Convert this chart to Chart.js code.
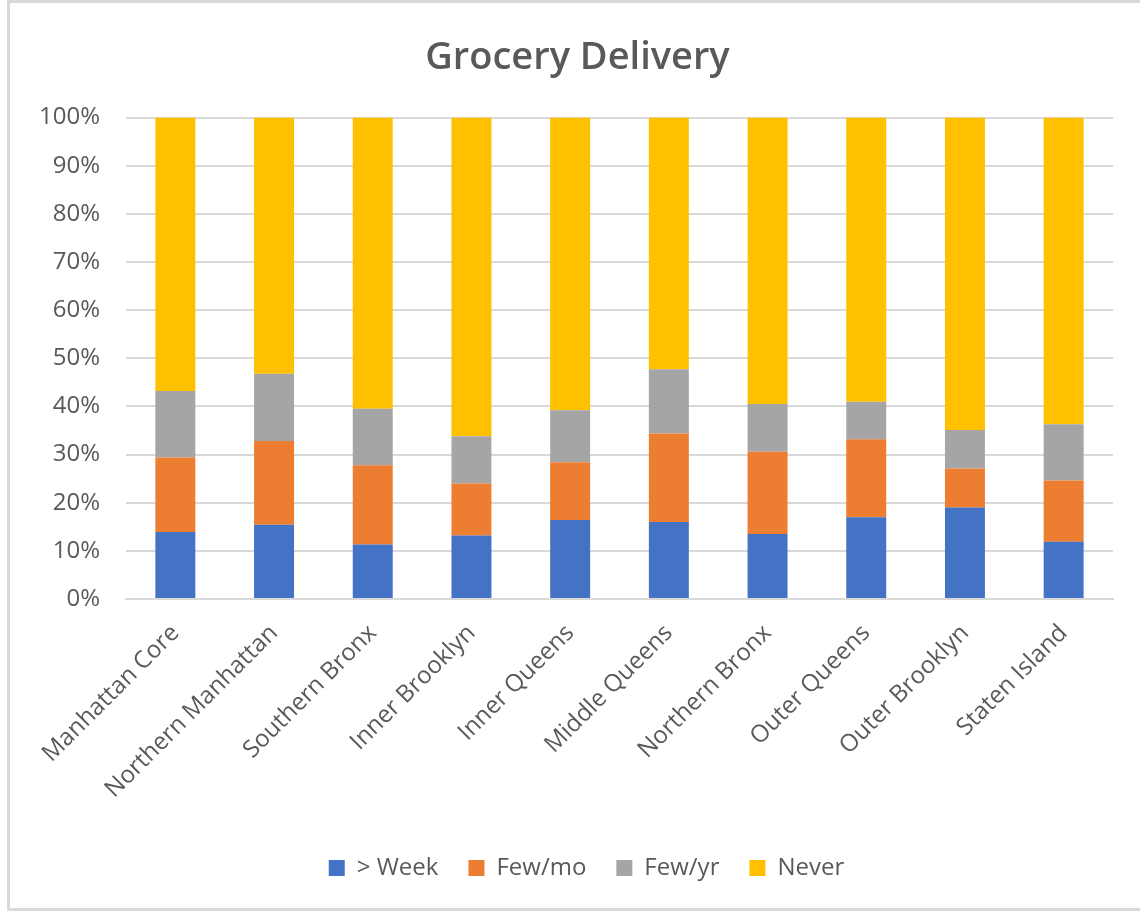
<!DOCTYPE html>
<html>
<head>
<meta charset="utf-8">
<title>Grocery Delivery</title>
<script src="https://cdn.jsdelivr.net/npm/chart.js@4/dist/chart.umd.min.js"></script>
<style>
  html, body { margin: 0; padding: 0; background: #ffffff; }
  #frame {
    position: absolute; left: 7px; top: 0px; width: 1140px; height: 911px;
    border-left: 3px solid #d9d9d9; border-top: 3px solid #d9d9d9; border-bottom: 3px solid #d9d9d9;
    box-sizing: border-box;
  }
  #wrap { position: absolute; left: 0; top: 0; width: 1140px; height: 914px; }
</style>
</head>
<body>
<div id="frame"></div>
<div id="wrap"><canvas id="chart" width="1140" height="914"></canvas></div>
<script>
// Regions of New York City
const regions = [
  'Manhattan Core', 'Northern Manhattan', 'Southern Bronx', 'Inner Brooklyn', 'Inner Queens',
  'Middle Queens', 'Northern Bronx', 'Outer Queens', 'Outer Brooklyn', 'Staten Island'
];

// Share of respondents (%) by grocery delivery frequency
const weekly    = [13.9, 15.4, 11.3, 13.2, 16.4, 16.0, 13.5, 17.0, 19.0, 11.9];
const fewPerMo  = [15.5, 17.4, 16.5, 10.8, 12.0, 18.4, 17.1, 16.2,  8.1, 12.7];
const fewPerYr  = [13.8, 14.0, 11.7,  9.8, 10.8, 13.3,  9.9,  7.8,  8.0, 11.7];
const never     = [56.8, 53.2, 60.5, 66.2, 60.8, 52.3, 59.5, 59.0, 64.9, 63.7];

const seriesNames = ['> Week', 'Few/mo', 'Few/yr', 'Never'];
const yTicks = [0, 10, 20, 30, 40, 50, 60, 70, 80, 90, 100];

const FONT = '"Open Sans", "Noto Sans", sans-serif';
const TEXT = '#595959';

// Centre the title and legend over the plot area rather than the whole canvas
const centreOverPlot = {
  id: 'centreOverPlot',
  afterLayout(chart) {
    const shift = (box, dx) => { if (box) { box.left += dx; box.right += dx; } };
    shift(chart.titleBlock, 14);
    shift(chart.legend, 23);
  }
};

new Chart(document.getElementById('chart'), {
  type: 'bar',
  data: {
    labels: regions,
    datasets: [
      { label: seriesNames[0], data: weekly,   backgroundColor: '#4472C4' },
      { label: seriesNames[1], data: fewPerMo, backgroundColor: '#ED7D31' },
      { label: seriesNames[2], data: fewPerYr, backgroundColor: '#A5A5A5' },
      { label: seriesNames[3], data: never,    backgroundColor: '#FFC000' }
    ]
  },
  plugins: [centreOverPlot],
  options: {
    responsive: false,
    animation: false,
    events: [],
    datasets: { bar: { categoryPercentage: 1.0, barPercentage: 0.405, borderWidth: 0 } },
    layout: { padding: { left: 14, right: 27, top: 10, bottom: 24 } },
    plugins: {
      title: {
        display: true,
        text: 'Grocery Delivery',
        color: TEXT,
        font: { family: FONT, size: 38, weight: '600' },
        padding: { top: 25, bottom: 37 }
      },
      legend: {
        position: 'bottom',
        labels: {
          color: TEXT,
          font: { family: FONT, size: 24 },
          boxWidth: 16,
          boxHeight: 16,
          padding: 30
        }
      },
      tooltip: { enabled: false }
    },
    scales: {
      x: {
        stacked: true,
        grid: { display: false, drawTicks: false },
        border: { display: true, color: '#d9d9d9', width: 2 },
        ticks: {
          color: TEXT,
          font: { family: FONT, size: 24 },
          minRotation: 45,
          maxRotation: 45,
          padding: 20,
          autoSkip: false
        },
        afterFit: (scale) => { scale.height = 227; }
      },
      y: {
        stacked: true,
        min: 0,
        max: 100,
        afterBuildTicks: (scale) => { scale.ticks = yTicks.map(v => ({ value: v })); },
        grid: { color: '#d9d9d9', lineWidth: 2, drawTicks: false },
        border: { display: false },
        ticks: {
          color: TEXT,
          font: { family: FONT, size: 24 },
          padding: 26,
          callback: (v) => v + '%'
        },
        afterFit: (scale) => { scale.width = 112; }
      }
    }
  }
});
</script>
</body>
</html>
